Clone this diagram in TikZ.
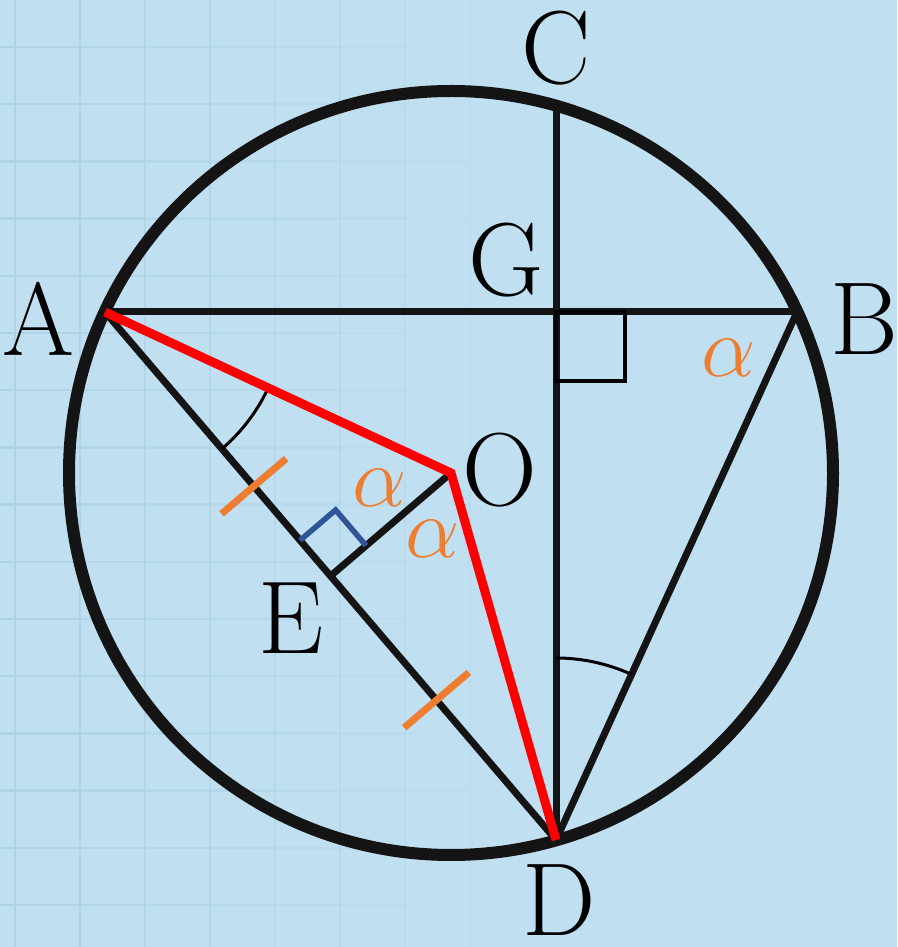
\documentclass[tikz,border=0pt]{standalone}
\usepackage{tikz}
\usetikzlibrary{calc}

\definecolor{paperblue}{RGB}{192,224,242}
\definecolor{gridblue}{RGB}{174,210,230}
\definecolor{markorange}{RGB}{237,125,49}
\definecolor{markblue}{RGB}{47,85,151}

\begin{document}
\begin{tikzpicture}[x=0.2pt,y=0.2pt,
  lbl/.style={inner sep=0pt,font=\fontsize{20.74}{24}\selectfont},
  alph/.style={inner sep=0pt,text=markorange,font=\fontsize{17.28}{20}\selectfont},
  rim/.style={line width=2.4pt,black!92},
  chord/.style={line width=1.4pt,black!92},
  radial/.style={line width=1.8pt,red},
  anglearc/.style={line width=0.6pt},
  tickmark/.style={line width=1.4pt,markorange},
  gridline/.style={gridblue,line width=0.5pt},
  ]
  \useasboundingbox (0,0) rectangle (897,947);
  % squared paper, fading out to the right
  \fill[paperblue] (0,0) rectangle (897,947);
  \foreach \i in {0,...,7}
    \draw[gridline,opacity=1-\i/9] (15+65*\i,0) -- (15+65*\i,947);
  \foreach \j in {0,...,15}
    \foreach \i in {0,...,7}
      \draw[gridline,opacity=1-\i/8] (65*\i-50,42+57.2*\j) -- (65*\i+15,42+57.2*\j);

  % points
  \coordinate (O) at (451,474);
  \coordinate (A) at (105,635);
  \coordinate (B) at (797,635);
  \coordinate (G) at (556,635);
  \coordinate (C) at (556,841);
  \coordinate (D) at (556,107);
  \coordinate (E) at ($(A)!0.5!(D)$);

  % chords
  \draw[chord] (A) -- (B);
  \draw[chord] (C) -- (D);
  \draw[chord] (A) -- (D);
  \draw[chord] (B) -- (D);
  \draw[chord] (O) -- (E);

  % right angles
  \draw[line width=0.8pt] (G) rectangle ++(69,-69);
  \coordinate (Ea) at ($(E)!0.135!(A)$);
  \coordinate (Eo) at ($(E)!0.295!(O)$);
  \draw[markblue,line width=1.1pt] (Ea) -- ($(Ea)+(Eo)-(E)$) -- (Eo);

  % equal parts
  \coordinate (T1) at ($(A)!0.33!(D)$);
  \coordinate (T2) at ($(A)!0.735!(D)$);
  \draw[tickmark] ($(T1)!8.5pt!90:(D)$) -- ($(T1)!8.5pt!-90:(D)$);
  \draw[tickmark] ($(T2)!8.5pt!90:(D)$) -- ($(T2)!8.5pt!-90:(D)$);

  % angle arcs
  \draw[anglearc] (A) ++(-49.5:180) arc[start angle=-49.5,end angle=-25,radius=180];
  \draw[anglearc] (D) ++(65.5:182) arc[start angle=65.5,end angle=90,radius=182];

  \draw[rim] (O) circle[radius=382];
  \draw[radial] (A) -- (O) -- (D);

  % labels
  \node[lbl] (labA) at (38,628) {A};
  \node[lbl] (labB) at (864,628) {B};
  \node[lbl] (labC) at (556,899) {C};
  \node[lbl] (labG) at (506,687) {G};
  \node[lbl] (labO) at (500,477) {O};
  \node[lbl] (labE) at (291,329) {E};
  \node[lbl] (labD) at (559,47) {D};
  \node[alph] (alB) at (729,589) {$\alpha$};
  \node[alph] (alO) at (380,459) {$\alpha$};
  \node[alph] (alE) at (433,408) {$\alpha$};
\end{tikzpicture}
\end{document}
